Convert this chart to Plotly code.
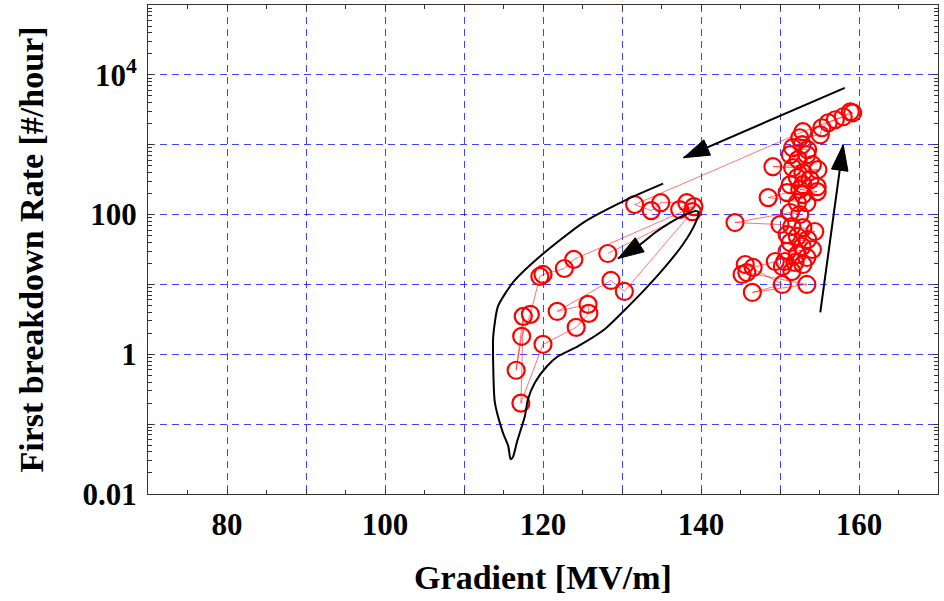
import plotly.graph_objects as go

# Breakdown-rate measurements (gradient in MV/m, first-breakdown rate in #/hour),
# in the order they were taken: first the high-gradient run, then the lower one.
gradient_high = [145.2, 145.8, 153.4, 146.5, 150.3, 145.6, 146.6, 149.4, 150.3, 151.5,
                 152.9, 151.9, 150.6, 153.4, 152.2, 150.9, 154.1, 152.8, 151.3, 153.5,
                 152.2, 150.9, 154.4, 152.9, 151.5, 150.0, 144.3, 151.3, 152.5, 152.2,
                 153.4, 148.5, 150.9, 152.9, 154.7, 152.5, 154.7, 151.3, 152.9, 153.8,
                 152.2, 152.9, 154.8, 151.6, 149.1, 154.1, 152.3, 151.3, 153.4, 153.5,
                 151.6, 152.8, 152.5, 155.1, 155.3, 156.1, 157.0, 158.0, 158.9, 159.2,
                 152.9]
rate_high = [13.9, 14.8, 10.0, 7.69, 10.0, 19.3, 17.5, 21.3, 18.1, 15.3,
             19.3, 20.6, 21.3, 24.3, 26.8, 29.6, 31.6, 34.9, 39.8, 43.9,
             48.5, 51.8, 57.2, 65.0, 67.4, 72.0, 76.9, 107, 100, 148,
             148, 175, 206, 193, 213, 228, 251, 268, 268, 316,
             338, 398, 439, 469, 485, 518, 611, 720, 720, 848,
             906, 1000, 1259, 1389, 1750, 2061, 2276, 2512, 2961, 2865,
             1535]

gradient_low = [131.6, 133.7, 134.9, 138.2, 137.3, 139.1, 123.9, 122.7, 120.0, 119.6,
                118.4, 117.3, 116.6, 117.5, 117.2, 120.0, 124.2, 125.8, 125.7, 121.8,
                128.6, 130.3, 138.9, 128.2]
rate_low = [139, 114, 148, 148, 118, 130, 22.8, 16.9, 13.9, 13.0,
            3.73, 1.81, 0.591, 3.49, 0.2, 1.39, 2.43, 3.85, 5.18, 4.11,
            11.4, 7.94, 110, 27.7]

# Hand-drawn outline around the low-gradient data, ending in a curved arrow
outline_gradient = [135.2, 130.6, 125.1, 119.6, 116.2, 114.3, 113.7, 113.7, 113.9, 114.9,
                    115.6, 115.9, 116.2, 116.7, 117.7, 118.1, 119.0, 120.5, 121.9, 124.4,
                    127.8, 130.8, 132.9, 135.4, 137.7, 139.2, 139.7, 139.4]
outline_rate = [277, 164, 76.9, 25.1, 10.7, 4.85, 1.81, 0.674, 0.206, 0.0769,
                0.0485, 0.0316, 0.0338, 0.0553, 0.130, 0.228, 0.398, 0.674, 0.936, 1.30,
                2.28, 4.85, 8.48, 17.5, 37.3, 72.0, 107, 114]
curl_gradient = [139.4, 138.0, 136.1, 134.2, 132.3, 129.5]
curl_rate = [114, 100, 76.9, 55.3, 37.3, 23.5]

# Straight arrows: (tail, tip)
jump_arrow_gradient = [158.2, 137.8]
jump_arrow_rate = [6520, 652]
rise_arrow_gradient = [155.1, 158.0]
rise_arrow_rate = [3.98, 1000]

# Axis ticks
x_ticks = [70, 80, 90, 100, 110, 120, 130, 140, 150, 160, 170]
x_ticktext = ["", "80", "", "100", "", "120", "", "140", "", "160", ""]
x_minor = [75, 85, 95, 105, 115, 125, 135, 145, 155, 165]
y_ticks = [0.01, 0.1, 1, 10, 100, 1000, 1e4, 1e5]
y_ticktext = ["0.01", "", "1", "", "100", "", "10<sup>4</sup>", ""]
y_minor = [m * d for d in [0.01, 0.1, 1, 10, 100, 1000, 1e4] for m in range(2, 10)]

FONT = "Liberation Serif"
RED = "#ff0000"
FRAME = "#333333"
GRID = "rgba(0,0,255,0.75)"

fig = go.Figure()

fig.add_trace(go.Scatter(
    x=gradient_high + gradient_low, y=rate_high + rate_low,
    mode="lines+markers",
    line=dict(color="rgba(255,0,0,0.55)", width=1),
    marker=dict(symbol="circle-open", size=17, color=RED, line=dict(width=2.2, color=RED)),
    hoverinfo="x+y", showlegend=False,
))

fig.add_trace(go.Scatter(
    x=outline_gradient, y=outline_rate, mode="lines",
    line=dict(color="black", width=2, shape="spline", smoothing=0.6),
    showlegend=False, hoverinfo="skip",
))


def arrow_trace(xs, ys, head=27):
    n = len(xs)
    return go.Scatter(
        x=xs, y=ys, mode="lines+markers",
        line=dict(color="black", width=2, shape="spline", smoothing=0.6),
        marker=dict(symbol=["circle"] * (n - 1) + ["arrow"],
                    size=[0] * (n - 1) + [head],
                    color="black", opacity=1, angleref="previous",
                    line=dict(width=1, color="black")),
        showlegend=False, hoverinfo="skip",
    )


fig.add_trace(arrow_trace(curl_gradient, curl_rate))
fig.add_trace(arrow_trace(jump_arrow_gradient, jump_arrow_rate))
fig.add_trace(arrow_trace(rise_arrow_gradient, rise_arrow_rate))

tick_font = dict(family=FONT, size=31, color="black", weight="bold")
title_font = dict(family=FONT, size=34, color="black", weight="bold")

fig.update_layout(
    width=944, height=601,
    margin=dict(l=148, r=6, t=5, b=107),
    paper_bgcolor="white", plot_bgcolor="white",
    showlegend=False,
    xaxis=dict(
        range=[70, 170], tickmode="array", tickvals=x_ticks, ticktext=x_ticktext,
        ticks="inside", ticklen=5, tickcolor=FRAME, tickwidth=1,
        showline=True, linecolor=FRAME, linewidth=1, mirror="allticks",
        showgrid=True, gridcolor=GRID, gridwidth=1, griddash="7px,5px",
        zeroline=False, tickfont=tick_font, ticklabelstandoff=3,
        minor=dict(tickmode="array", tickvals=x_minor, ticks="inside", ticklen=4,
                   tickcolor=FRAME, showgrid=False),
        title=dict(text="Gradient [MV/m]", font=title_font, standoff=23),
    ),
    yaxis=dict(
        type="log", range=[-2, 5], tickmode="array", tickvals=y_ticks, ticktext=y_ticktext,
        ticks="inside", ticklen=5, tickcolor=FRAME, tickwidth=1,
        showline=True, linecolor=FRAME, linewidth=1, mirror="allticks",
        showgrid=True, gridcolor=GRID, gridwidth=1, griddash="7px,5px",
        zeroline=False, tickfont=tick_font, ticklabelstandoff=4,
        minor=dict(tickmode="array", tickvals=y_minor, ticks="inside", ticklen=4,
                   tickcolor=FRAME, showgrid=False),
        title=dict(text="First breakdown Rate [#/hour]", font=title_font, standoff=28),
    ),
)

fig.write_html("out.html")
